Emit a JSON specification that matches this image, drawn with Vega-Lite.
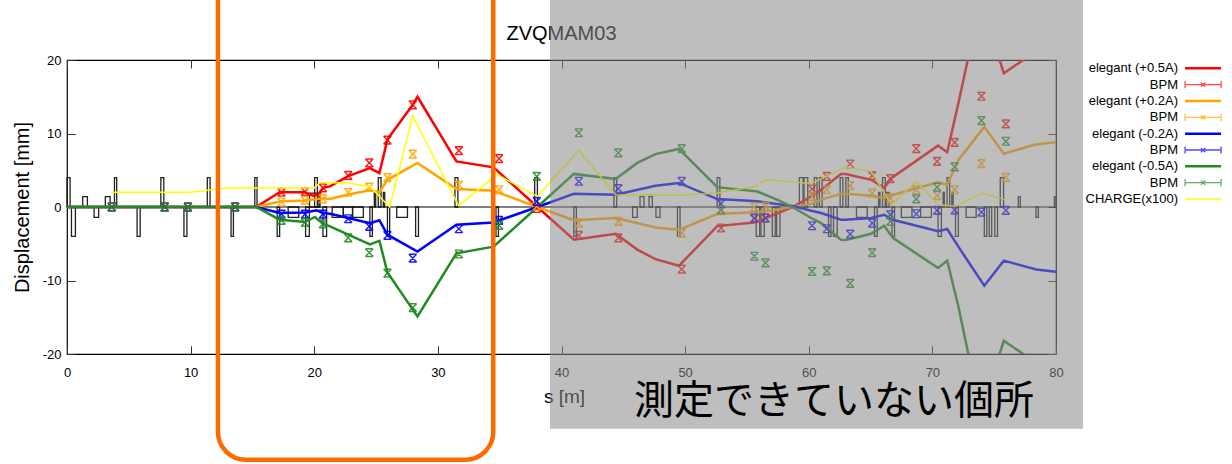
{
  "$schema": "https://vega.github.io/schema/vega-lite/v6.json",
  "autosize": "none",
  "width": 989,
  "height": 294,
  "padding": {"left": 67, "top": 60, "right": 176, "bottom": 110},
  "background": "white",
  "config": {
    "font": "Liberation Sans",
    "view": {"stroke": "black", "strokeWidth": 1.2},
    "axis": {"domain": false, "labelColor": "black", "tickColor": "#333", "labelFontSize": 13, "labelFlush": false, "labelOverlap": false, "titleFontWeight": "normal", "titleColor": "black", "gridColor": "#333", "gridWidth": 1, "gridOpacity": 1}
  },
  "datasets": {
    "elements": [
      {"s0": 0.0, "s1": 0.25, "h": 4}, {"s0": 0.36, "s1": 0.68, "h": -4}, {"s0": 1.27, "s1": 1.65, "h": 1.4}, {"s0": 2.19, "s1": 2.56, "h": -1.4},
      {"s0": 3.1, "s1": 3.49, "h": 1.4}, {"s0": 3.84, "s1": 4.02, "h": 4}, {"s0": 5.67, "s1": 5.92, "h": -4}, {"s0": 7.59, "s1": 7.83, "h": 4},
      {"s0": 9.46, "s1": 9.7, "h": -4}, {"s0": 11.35, "s1": 11.57, "h": 4}, {"s0": 13.27, "s1": 13.46, "h": -4}, {"s0": 15.19, "s1": 15.37, "h": 4},
      {"s0": 17.0, "s1": 17.2, "h": -4}, {"s0": 17.89, "s1": 18.75, "h": -1.4}, {"s0": 19.3, "s1": 19.6, "h": -4}, {"s0": 19.62, "s1": 20.45, "h": 1.9},
      {"s0": 20.38, "s1": 20.45, "h": 1.9}, {"s0": 20.03, "s1": 20.25, "h": 4}, {"s0": 20.7, "s1": 21.0, "h": -4}, {"s0": 21.45, "s1": 22.35, "h": -1.4},
      {"s0": 22.35, "s1": 23.1, "h": -1.4}, {"s0": 23.1, "s1": 23.97, "h": -1.4}, {"s0": 24.5, "s1": 24.7, "h": -4}, {"s0": 24.86, "s1": 24.97, "h": 2},
      {"s0": 25.18, "s1": 25.4, "h": 4}, {"s0": 25.59, "s1": 25.7, "h": 2}, {"s0": 25.92, "s1": 26.1, "h": -4}, {"s0": 26.67, "s1": 27.54, "h": -1.4},
      {"s0": 28.2, "s1": 28.43, "h": -4}, {"s0": 31.38, "s1": 31.62, "h": 4}, {"s0": 34.7, "s1": 34.9, "h": -4}, {"s0": 37.83, "s1": 38.05, "h": 4},
      {"s0": 41.0, "s1": 41.2, "h": -4}, {"s0": 44.24, "s1": 44.46, "h": 4}, {"s0": 45.75, "s1": 46.13, "h": -1.4}, {"s0": 46.35, "s1": 46.67, "h": 1.4},
      {"s0": 47.08, "s1": 47.35, "h": 1.4}, {"s0": 47.64, "s1": 47.97, "h": -1.4}, {"s0": 49.38, "s1": 49.59, "h": -4}, {"s0": 52.59, "s1": 52.81, "h": 4},
      {"s0": 55.75, "s1": 56.03, "h": -4}, {"s0": 56.13, "s1": 56.4, "h": -4}, {"s0": 57.05, "s1": 57.29, "h": -4}, {"s0": 57.4, "s1": 57.67, "h": -4},
      {"s0": 59.24, "s1": 59.54, "h": 4}, {"s0": 59.62, "s1": 59.92, "h": 4}, {"s0": 60.45, "s1": 60.67, "h": 4}, {"s0": 60.86, "s1": 61.08, "h": 4},
      {"s0": 61.6, "s1": 61.8, "h": -4}, {"s0": 62.0, "s1": 62.3, "h": -4}, {"s0": 62.54, "s1": 62.76, "h": 4}, {"s0": 63.0, "s1": 63.2, "h": 4},
      {"s0": 63.86, "s1": 64.73, "h": -1.4}, {"s0": 65.32, "s1": 65.54, "h": -4}, {"s0": 65.65, "s1": 65.76, "h": 2}, {"s0": 65.97, "s1": 66.19, "h": 4},
      {"s0": 66.3, "s1": 66.5, "h": 2}, {"s0": 66.73, "s1": 66.94, "h": -4}, {"s0": 67.49, "s1": 68.35, "h": -1.4}, {"s0": 69.05, "s1": 69.92, "h": -1.4},
      {"s0": 70.46, "s1": 70.73, "h": -4}, {"s0": 70.87, "s1": 70.97, "h": 2}, {"s0": 71.19, "s1": 71.4, "h": 4}, {"s0": 71.57, "s1": 71.68, "h": 2},
      {"s0": 71.87, "s1": 72.1, "h": -4}, {"s0": 72.73, "s1": 73.54, "h": -1.4}, {"s0": 74.2, "s1": 74.4, "h": -4}, {"s0": 74.6, "s1": 74.8, "h": -4},
      {"s0": 75.05, "s1": 75.27, "h": -4}, {"s0": 75.49, "s1": 75.76, "h": 4}, {"s0": 76.95, "s1": 77.11, "h": 1.4}, {"s0": 78.38, "s1": 78.57, "h": -1.4},
      {"s0": 79.87, "s1": 80.0, "h": 1.4}
    ],
    "lines": [
      {"cur": "+0.5A", "s": 0, "y": 0}, {"cur": "+0.5A", "s": 15.3, "y": 0}, {"cur": "+0.5A", "s": 17.2, "y": 2.0}, {"cur": "+0.5A", "s": 19.25, "y": 2.0},
      {"cur": "+0.5A", "s": 19.9, "y": 1.55}, {"cur": "+0.5A", "s": 20.4, "y": 1.7}, {"cur": "+0.5A", "s": 20.7, "y": 2.6}, {"cur": "+0.5A", "s": 21.27, "y": 2.8},
      {"cur": "+0.5A", "s": 22.75, "y": 4.2}, {"cur": "+0.5A", "s": 24.5, "y": 5.3}, {"cur": "+0.5A", "s": 25.27, "y": 4.6}, {"cur": "+0.5A", "s": 25.92, "y": 9.2},
      {"cur": "+0.5A", "s": 27.97, "y": 13.9}, {"cur": "+0.5A", "s": 28.35, "y": 15.0}, {"cur": "+0.5A", "s": 31.5, "y": 6.2}, {"cur": "+0.5A", "s": 34.5, "y": 5.4},
      {"cur": "+0.5A", "s": 38.05, "y": 0}, {"cur": "+0.5A", "s": 41.0, "y": -4.45}, {"cur": "+0.5A", "s": 44.38, "y": -3.64}, {"cur": "+0.5A", "s": 46.13, "y": -5.8},
      {"cur": "+0.5A", "s": 47.6, "y": -7.1}, {"cur": "+0.5A", "s": 49.5, "y": -8.0}, {"cur": "+0.5A", "s": 52.6, "y": -2.6}, {"cur": "+0.5A", "s": 55.6, "y": -2.1},
      {"cur": "+0.5A", "s": 57.2, "y": -1.05}, {"cur": "+0.5A", "s": 58.8, "y": 0.1}, {"cur": "+0.5A", "s": 60.2, "y": 1.45}, {"cur": "+0.5A", "s": 61.0, "y": 2.35},
      {"cur": "+0.5A", "s": 62.6, "y": 4.5}, {"cur": "+0.5A", "s": 63.0, "y": 4.5}, {"cur": "+0.5A", "s": 65.05, "y": 3.7}, {"cur": "+0.5A", "s": 66.1, "y": 2.6},
      {"cur": "+0.5A", "s": 66.7, "y": 3.95}, {"cur": "+0.5A", "s": 70.46, "y": 8.35}, {"cur": "+0.5A", "s": 71.2, "y": 7.45}, {"cur": "+0.5A", "s": 72.1, "y": 14.1},
      {"cur": "+0.5A", "s": 73.9, "y": 28}, {"cur": "+0.5A", "s": 75.78, "y": 18.2}, {"cur": "+0.5A", "s": 77.35, "y": 20}, {"cur": "+0.5A", "s": 80, "y": 23},

      {"cur": "+0.2A", "s": 0, "y": 0}, {"cur": "+0.2A", "s": 15.3, "y": 0}, {"cur": "+0.2A", "s": 17.2, "y": 0.76}, {"cur": "+0.2A", "s": 19.25, "y": 0.9},
      {"cur": "+0.2A", "s": 20.7, "y": 1.2}, {"cur": "+0.2A", "s": 21.27, "y": 1.1}, {"cur": "+0.2A", "s": 22.75, "y": 1.7}, {"cur": "+0.2A", "s": 24.5, "y": 2.26},
      {"cur": "+0.2A", "s": 25.27, "y": 2.0}, {"cur": "+0.2A", "s": 25.92, "y": 3.7}, {"cur": "+0.2A", "s": 28.35, "y": 6.0}, {"cur": "+0.2A", "s": 31.5, "y": 2.45},
      {"cur": "+0.2A", "s": 34.5, "y": 2.2}, {"cur": "+0.2A", "s": 38.05, "y": 0}, {"cur": "+0.2A", "s": 41.0, "y": -1.8}, {"cur": "+0.2A", "s": 44.38, "y": -1.5},
      {"cur": "+0.2A", "s": 47.6, "y": -2.8}, {"cur": "+0.2A", "s": 49.5, "y": -3.1}, {"cur": "+0.2A", "s": 52.6, "y": -0.96}, {"cur": "+0.2A", "s": 55.6, "y": -0.73},
      {"cur": "+0.2A", "s": 57.2, "y": -0.4}, {"cur": "+0.2A", "s": 58.8, "y": 0.06}, {"cur": "+0.2A", "s": 60.2, "y": 0.45}, {"cur": "+0.2A", "s": 61.0, "y": 1.0},
      {"cur": "+0.2A", "s": 62.6, "y": 1.8}, {"cur": "+0.2A", "s": 63.0, "y": 1.8}, {"cur": "+0.2A", "s": 65.05, "y": 1.54}, {"cur": "+0.2A", "s": 66.1, "y": 1.2},
      {"cur": "+0.2A", "s": 66.7, "y": 1.6}, {"cur": "+0.2A", "s": 70.46, "y": 3.35}, {"cur": "+0.2A", "s": 71.2, "y": 3.0}, {"cur": "+0.2A", "s": 72.1, "y": 6.4},
      {"cur": "+0.2A", "s": 74.2, "y": 10.9}, {"cur": "+0.2A", "s": 75.78, "y": 7.25}, {"cur": "+0.2A", "s": 78.3, "y": 8.5}, {"cur": "+0.2A", "s": 80, "y": 8.8},

      {"cur": "-0.2A", "s": 0, "y": 0}, {"cur": "-0.2A", "s": 15.3, "y": 0}, {"cur": "-0.2A", "s": 17.2, "y": -0.82}, {"cur": "-0.2A", "s": 19.25, "y": -0.76},
      {"cur": "-0.2A", "s": 20.2, "y": -0.46}, {"cur": "-0.2A", "s": 20.7, "y": -0.82}, {"cur": "-0.2A", "s": 21.27, "y": -0.92}, {"cur": "-0.2A", "s": 22.75, "y": -1.5},
      {"cur": "-0.2A", "s": 24.5, "y": -2.2}, {"cur": "-0.2A", "s": 25.27, "y": -1.8}, {"cur": "-0.2A", "s": 25.92, "y": -3.77}, {"cur": "-0.2A", "s": 28.35, "y": -6.05},
      {"cur": "-0.2A", "s": 31.5, "y": -2.4}, {"cur": "-0.2A", "s": 34.5, "y": -2.1}, {"cur": "-0.2A", "s": 38.05, "y": 0}, {"cur": "-0.2A", "s": 41.0, "y": 1.8},
      {"cur": "-0.2A", "s": 44.38, "y": 1.67}, {"cur": "-0.2A", "s": 47.6, "y": 2.9}, {"cur": "-0.2A", "s": 49.5, "y": 3.27}, {"cur": "-0.2A", "s": 52.6, "y": 1.08},
      {"cur": "-0.2A", "s": 55.85, "y": 0.77}, {"cur": "-0.2A", "s": 58.8, "y": 0.1}, {"cur": "-0.2A", "s": 60.2, "y": -0.5}, {"cur": "-0.2A", "s": 61.0, "y": -0.82},
      {"cur": "-0.2A", "s": 62.6, "y": -1.73}, {"cur": "-0.2A", "s": 63.0, "y": -1.73}, {"cur": "-0.2A", "s": 65.05, "y": -1.5}, {"cur": "-0.2A", "s": 66.1, "y": -1.05},
      {"cur": "-0.2A", "s": 66.8, "y": -1.73}, {"cur": "-0.2A", "s": 70.46, "y": -3.3}, {"cur": "-0.2A", "s": 71.2, "y": -3.0}, {"cur": "-0.2A", "s": 72.1, "y": -5.4},
      {"cur": "-0.2A", "s": 74.2, "y": -10.7}, {"cur": "-0.2A", "s": 75.78, "y": -7.3}, {"cur": "-0.2A", "s": 78.4, "y": -8.5}, {"cur": "-0.2A", "s": 80, "y": -8.8},

      {"cur": "-0.5A", "s": 0, "y": 0}, {"cur": "-0.5A", "s": 15.3, "y": 0}, {"cur": "-0.5A", "s": 17.2, "y": -1.73}, {"cur": "-0.5A", "s": 19.25, "y": -2.05},
      {"cur": "-0.5A", "s": 20.05, "y": -1.36}, {"cur": "-0.5A", "s": 20.7, "y": -2.27}, {"cur": "-0.5A", "s": 21.27, "y": -2.64}, {"cur": "-0.5A", "s": 22.75, "y": -3.77},
      {"cur": "-0.5A", "s": 24.5, "y": -5.1}, {"cur": "-0.5A", "s": 25.27, "y": -4.6}, {"cur": "-0.5A", "s": 25.92, "y": -8.9}, {"cur": "-0.5A", "s": 28.35, "y": -14.9},
      {"cur": "-0.5A", "s": 31.5, "y": -6.3}, {"cur": "-0.5A", "s": 34.5, "y": -5.4}, {"cur": "-0.5A", "s": 38.05, "y": 0}, {"cur": "-0.5A", "s": 41.0, "y": 4.5},
      {"cur": "-0.5A", "s": 44.38, "y": 3.8}, {"cur": "-0.5A", "s": 46.13, "y": 6.0}, {"cur": "-0.5A", "s": 47.6, "y": 7.2}, {"cur": "-0.5A", "s": 49.5, "y": 7.9},
      {"cur": "-0.5A", "s": 52.6, "y": 2.7}, {"cur": "-0.5A", "s": 55.85, "y": 2.1}, {"cur": "-0.5A", "s": 57.76, "y": 0.76}, {"cur": "-0.5A", "s": 58.8, "y": -0.14},
      {"cur": "-0.5A", "s": 60.2, "y": -1.5}, {"cur": "-0.5A", "s": 61.0, "y": -2.2}, {"cur": "-0.5A", "s": 62.6, "y": -4.45}, {"cur": "-0.5A", "s": 63.0, "y": -4.5},
      {"cur": "-0.5A", "s": 65.05, "y": -3.64}, {"cur": "-0.5A", "s": 66.1, "y": -2.55}, {"cur": "-0.5A", "s": 66.8, "y": -4.2}, {"cur": "-0.5A", "s": 70.46, "y": -8.3},
      {"cur": "-0.5A", "s": 71.2, "y": -7.3}, {"cur": "-0.5A", "s": 72.1, "y": -13.5}, {"cur": "-0.5A", "s": 73.9, "y": -28}, {"cur": "-0.5A", "s": 75.78, "y": -18.2},
      {"cur": "-0.5A", "s": 77.35, "y": -20}, {"cur": "-0.5A", "s": 80, "y": -23},

      {"cur": "CHARGE", "s": 3.6, "y": 2.0}, {"cur": "CHARGE", "s": 10.0, "y": 2.0}, {"cur": "CHARGE", "s": 12.9, "y": 2.6}, {"cur": "CHARGE", "s": 20.0, "y": 2.6},
      {"cur": "CHARGE", "s": 20.45, "y": 3.3}, {"cur": "CHARGE", "s": 21.5, "y": 3.35}, {"cur": "CHARGE", "s": 22.75, "y": 3.27}, {"cur": "CHARGE", "s": 24.5, "y": 2.8},
      {"cur": "CHARGE", "s": 26.1, "y": 0}, {"cur": "CHARGE", "s": 27.97, "y": 12.4}, {"cur": "CHARGE", "s": 31.67, "y": 0.2}, {"cur": "CHARGE", "s": 34.8, "y": 4.4},
      {"cur": "CHARGE", "s": 38.05, "y": 1.45}, {"cur": "CHARGE", "s": 41.4, "y": 7.7}, {"cur": "CHARGE", "s": 44.38, "y": 1.67}, {"cur": "CHARGE", "s": 49.5, "y": 1.6},
      {"cur": "CHARGE", "s": 52.6, "y": 1.9}, {"cur": "CHARGE", "s": 55.6, "y": 2.8}, {"cur": "CHARGE", "s": 56.55, "y": 3.7}, {"cur": "CHARGE", "s": 60.2, "y": 3.2},
      {"cur": "CHARGE", "s": 63.0, "y": 5.45}, {"cur": "CHARGE", "s": 65.05, "y": 4.85}, {"cur": "CHARGE", "s": 66.7, "y": 0.3}, {"cur": "CHARGE", "s": 68.7, "y": 3.5},
      {"cur": "CHARGE", "s": 70.46, "y": 0.3}, {"cur": "CHARGE", "s": 71.9, "y": 0.1}, {"cur": "CHARGE", "s": 74.0, "y": 1.9}, {"cur": "CHARGE", "s": 75.9, "y": 1.0}
    ],
    "bpm": [
      {"cur": "+0.5A", "s": 3.62, "y": 0}, {"cur": "+0.5A", "s": 7.9, "y": 0}, {"cur": "+0.5A", "s": 9.78, "y": 0}, {"cur": "+0.5A", "s": 13.6, "y": 0},
      {"cur": "+0.5A", "s": 17.35, "y": 2.0}, {"cur": "+0.5A", "s": 19.25, "y": 2.1}, {"cur": "+0.5A", "s": 20.7, "y": 2.6}, {"cur": "+0.5A", "s": 22.75, "y": 4.3},
      {"cur": "+0.5A", "s": 24.45, "y": 6.0}, {"cur": "+0.5A", "s": 25.92, "y": 9.1}, {"cur": "+0.5A", "s": 27.97, "y": 13.9}, {"cur": "+0.5A", "s": 31.7, "y": 7.67},
      {"cur": "+0.5A", "s": 34.95, "y": 6.58}, {"cur": "+0.5A", "s": 38.0, "y": -0.2}, {"cur": "+0.5A", "s": 41.4, "y": -3.86}, {"cur": "+0.5A", "s": 44.6, "y": -4.2},
      {"cur": "+0.5A", "s": 49.73, "y": -8.45}, {"cur": "+0.5A", "s": 52.9, "y": -2.86}, {"cur": "+0.5A", "s": 55.6, "y": -1.6}, {"cur": "+0.5A", "s": 56.5, "y": -1.5},
      {"cur": "+0.5A", "s": 60.27, "y": 2.45}, {"cur": "+0.5A", "s": 61.46, "y": 4.17}, {"cur": "+0.5A", "s": 63.35, "y": 5.85}, {"cur": "+0.5A", "s": 65.13, "y": 4.26},
      {"cur": "+0.5A", "s": 66.6, "y": 3.86}, {"cur": "+0.5A", "s": 68.7, "y": 7.94}, {"cur": "+0.5A", "s": 70.38, "y": 6.2}, {"cur": "+0.5A", "s": 71.8, "y": 8.8},
      {"cur": "+0.5A", "s": 73.97, "y": 15.07}, {"cur": "+0.5A", "s": 75.94, "y": 11.3},

      {"cur": "+0.2A", "s": 3.62, "y": 0}, {"cur": "+0.2A", "s": 7.9, "y": 0}, {"cur": "+0.2A", "s": 9.78, "y": 0}, {"cur": "+0.2A", "s": 13.6, "y": 0},
      {"cur": "+0.2A", "s": 17.35, "y": 0.68}, {"cur": "+0.2A", "s": 19.25, "y": 0.9}, {"cur": "+0.2A", "s": 20.7, "y": 1.1}, {"cur": "+0.2A", "s": 22.75, "y": 2.0},
      {"cur": "+0.2A", "s": 24.45, "y": 2.7}, {"cur": "+0.2A", "s": 25.92, "y": 4.0}, {"cur": "+0.2A", "s": 27.97, "y": 7.2}, {"cur": "+0.2A", "s": 31.7, "y": 3.0},
      {"cur": "+0.2A", "s": 34.95, "y": 2.35}, {"cur": "+0.2A", "s": 38.0, "y": 0.1}, {"cur": "+0.2A", "s": 41.4, "y": -2.2}, {"cur": "+0.2A", "s": 44.6, "y": -1.95},
      {"cur": "+0.2A", "s": 49.73, "y": -3.55}, {"cur": "+0.2A", "s": 52.9, "y": -0.5}, {"cur": "+0.2A", "s": 55.6, "y": 0}, {"cur": "+0.2A", "s": 56.5, "y": 0.1},
      {"cur": "+0.2A", "s": 60.27, "y": 1.45}, {"cur": "+0.2A", "s": 61.46, "y": 2.35}, {"cur": "+0.2A", "s": 63.35, "y": 2.9}, {"cur": "+0.2A", "s": 65.13, "y": 1.9},
      {"cur": "+0.2A", "s": 66.6, "y": 1.2}, {"cur": "+0.2A", "s": 68.7, "y": 2.35}, {"cur": "+0.2A", "s": 70.38, "y": 1.54}, {"cur": "+0.2A", "s": 71.8, "y": 2.35},
      {"cur": "+0.2A", "s": 73.97, "y": 5.9}, {"cur": "+0.2A", "s": 75.94, "y": 4.04},

      {"cur": "-0.2A", "s": 3.62, "y": 0}, {"cur": "-0.2A", "s": 7.9, "y": 0}, {"cur": "-0.2A", "s": 9.78, "y": 0}, {"cur": "-0.2A", "s": 13.6, "y": 0},
      {"cur": "-0.2A", "s": 17.35, "y": -0.96}, {"cur": "-0.2A", "s": 19.25, "y": -0.96}, {"cur": "-0.2A", "s": 20.7, "y": -0.96}, {"cur": "-0.2A", "s": 22.75, "y": -1.6},
      {"cur": "-0.2A", "s": 24.45, "y": -2.64}, {"cur": "-0.2A", "s": 25.92, "y": -3.86}, {"cur": "-0.2A", "s": 27.97, "y": -6.95}, {"cur": "-0.2A", "s": 31.7, "y": -2.96},
      {"cur": "-0.2A", "s": 34.95, "y": -1.82}, {"cur": "-0.2A", "s": 38.0, "y": 0.77}, {"cur": "-0.2A", "s": 41.4, "y": 3.5}, {"cur": "-0.2A", "s": 44.6, "y": 2.5},
      {"cur": "-0.2A", "s": 49.73, "y": 3.5}, {"cur": "-0.2A", "s": 52.9, "y": 0.45}, {"cur": "-0.2A", "s": 55.6, "y": -1.5}, {"cur": "-0.2A", "s": 56.5, "y": -1.5},
      {"cur": "-0.2A", "s": 60.27, "y": -2.55}, {"cur": "-0.2A", "s": 61.46, "y": -2.96}, {"cur": "-0.2A", "s": 63.35, "y": -3.68}, {"cur": "-0.2A", "s": 65.13, "y": -2.2},
      {"cur": "-0.2A", "s": 66.6, "y": -1.05}, {"cur": "-0.2A", "s": 68.7, "y": -0.92}, {"cur": "-0.2A", "s": 70.38, "y": -0.46}, {"cur": "-0.2A", "s": 71.8, "y": -0.4},
      {"cur": "-0.2A", "s": 73.97, "y": -0.7}, {"cur": "-0.2A", "s": 75.94, "y": -0.46},

      {"cur": "-0.5A", "s": 3.62, "y": 0}, {"cur": "-0.5A", "s": 7.9, "y": 0}, {"cur": "-0.5A", "s": 9.78, "y": 0}, {"cur": "-0.5A", "s": 13.6, "y": 0},
      {"cur": "-0.5A", "s": 17.35, "y": -1.82}, {"cur": "-0.5A", "s": 19.25, "y": -2.1}, {"cur": "-0.5A", "s": 20.7, "y": -2.3}, {"cur": "-0.5A", "s": 22.75, "y": -4.2},
      {"cur": "-0.5A", "s": 24.45, "y": -6.2}, {"cur": "-0.5A", "s": 25.92, "y": -9.0}, {"cur": "-0.5A", "s": 27.97, "y": -13.7}, {"cur": "-0.5A", "s": 31.7, "y": -6.4},
      {"cur": "-0.5A", "s": 34.95, "y": -2.5}, {"cur": "-0.5A", "s": 38.0, "y": 4.17}, {"cur": "-0.5A", "s": 41.4, "y": 10.1}, {"cur": "-0.5A", "s": 44.6, "y": 7.36},
      {"cur": "-0.5A", "s": 49.73, "y": 7.94}, {"cur": "-0.5A", "s": 52.9, "y": -0.37}, {"cur": "-0.5A", "s": 55.6, "y": -6.7}, {"cur": "-0.5A", "s": 56.5, "y": -7.6},
      {"cur": "-0.5A", "s": 60.27, "y": -8.77}, {"cur": "-0.5A", "s": 61.46, "y": -8.7}, {"cur": "-0.5A", "s": 63.35, "y": -10.4}, {"cur": "-0.5A", "s": 65.13, "y": -6.2},
      {"cur": "-0.5A", "s": 66.6, "y": -1.96}, {"cur": "-0.5A", "s": 68.7, "y": 1.1}, {"cur": "-0.5A", "s": 70.38, "y": 2.7}, {"cur": "-0.5A", "s": 71.8, "y": 5.45},
      {"cur": "-0.5A", "s": 73.97, "y": 11.76}, {"cur": "-0.5A", "s": 75.94, "y": 8.94}
    ],
    "legend": [
      {"rank": 1, "label": "elegant (+0.5A)", "cur": "+0.5A", "kind": "line"},
      {"rank": 2, "label": "BPM", "cur": "+0.5A", "kind": "bpm"},
      {"rank": 3, "label": "elegant (+0.2A)", "cur": "+0.2A", "kind": "line"},
      {"rank": 4, "label": "BPM", "cur": "+0.2A", "kind": "bpm"},
      {"rank": 5, "label": "elegant (-0.2A)", "cur": "-0.2A", "kind": "line"},
      {"rank": 6, "label": "BPM", "cur": "-0.2A", "kind": "bpm"},
      {"rank": 7, "label": "elegant (-0.5A)", "cur": "-0.5A", "kind": "line"},
      {"rank": 8, "label": "BPM", "cur": "-0.5A", "kind": "bpm"},
      {"rank": 9, "label": "CHARGE(x100)", "cur": "CHARGE", "kind": "charge"}
    ]
  },
  "resolve": {"scale": {"y": "independent"}},
  "layer": [
    {
      "layer": [
        {
          "data": {"name": "elements"},
          "mark": {"type": "rect", "filled": false, "stroke": "#222", "strokeWidth": 1.3},
          "encoding": {
            "x": {"field": "s0", "type": "quantitative", "scale": {"domain": [0, 80], "nice": false, "zero": false},
              "axis": {"orient": "bottom", "values": [0, 10, 20, 30, 40, 50, 60, 70, 80], "tickSize": -8, "labelPadding": 20, "grid": true, "gridDash": [8, 278], "title": "s [m]", "titleFontSize": 19, "titleX": 497, "titleY": 42, "titleBaseline": "middle"}},
            "x2": {"field": "s1"},
            "y": {"field": "h", "type": "quantitative", "scale": {"domain": [-20, 20], "nice": false, "zero": false},
              "axis": {"orient": "left", "values": [-20, -15, -10, -5, 0, 5, 10, 15, 20], "tickSize": -8, "labelPadding": 14, "grid": true, "gridDash": [8, 973], "labelExpr": "replace(datum.label, '\u2212', '-')", "title": "Displacement [mm]", "titleFontSize": 20, "titleX": -45, "titleY": 147, "titleBaseline": "middle", "titleAlign": "center", "titleAngle": -90}},
            "y2": {"datum": 0}
          }
        },
        {
          "data": {"values": [{"ref": 0}]},
          "mark": {"type": "rule", "color": "black", "strokeWidth": 1.2},
          "encoding": {"y": {"field": "ref", "type": "quantitative"}}
        },
        {
          "data": {"name": "lines"},
          "transform": [{"filter": "datum.cur !== 'CHARGE'"}],
          "mark": {"type": "line", "strokeWidth": 2.5, "clip": true},
          "encoding": {
            "x": {"field": "s", "type": "quantitative"},
            "y": {"field": "y", "type": "quantitative"},
            "color": {"field": "cur", "type": "nominal", "scale": {"domain": ["+0.5A", "+0.2A", "-0.2A", "-0.5A", "CHARGE"], "range": ["#ff0000", "#ffa500", "#0000ff", "#228b22", "#ffff00"]}, "legend": null}
          }
        },
        {
          "data": {"name": "bpm"},
          "mark": {"type": "point", "shape": "M-1,-1L1,1M1,-1L-1,1M-1,-1H1M-1,1H1", "size": 60, "strokeWidth": 1.4, "filled": false, "opacity": 0.9, "clip": true},
          "encoding": {
            "x": {"field": "s", "type": "quantitative"},
            "y": {"field": "y", "type": "quantitative"},
            "color": {"field": "cur", "type": "nominal", "legend": null}
          }
        },
        {
          "data": {"name": "lines"},
          "transform": [{"filter": "datum.cur === 'CHARGE'"}],
          "mark": {"type": "line", "strokeWidth": 1.5, "clip": true},
          "encoding": {
            "x": {"field": "s", "type": "quantitative"},
            "y": {"field": "y", "type": "quantitative"},
            "color": {"field": "cur", "type": "nominal", "legend": null}
          }
        },
        {
          "data": {"values": [{"label": "ZVQMAM03"}]},
          "mark": {"type": "text", "fontSize": 20, "color": "black", "align": "center", "baseline": "middle"},
          "encoding": {
            "text": {"field": "label"},
            "x": {"datum": 40, "type": "quantitative"},
            "y": {"datum": 23.56, "type": "quantitative"}
          }
        },
        {
          "data": {"values": [{"region": "測定できていない個所"}]},
          "layer": [
            {
              "mark": {"type": "rect", "color": "#888888", "opacity": 0.55},
              "encoding": {
                "x": {"datum": 39.07, "type": "quantitative"},
                "x2": {"datum": 82.18},
                "y": {"datum": 28.3, "type": "quantitative"},
                "y2": {"datum": -30.18}
              }
            },
            {
              "mark": {"type": "text", "font": "Noto Sans CJK JP", "fontSize": 40, "color": "black", "align": "center", "baseline": "middle"},
              "encoding": {
                "text": {"field": "region"},
                "x": {"datum": 62.05, "type": "quantitative"},
                "y": {"datum": -26.5, "type": "quantitative"}
              }
            }
          ]
        },
        {
          "data": {"values": [{"frame": "highlight"}]},
          "mark": {"type": "rect", "filled": false, "color": "#ff6a00", "strokeWidth": 4.5, "cornerRadius": 28},
          "encoding": {
            "x": {"datum": 12.21, "type": "quantitative"},
            "x2": {"datum": 34.48},
            "y": {"datum": 32, "type": "quantitative"},
            "y2": {"datum": -34.4}
          }
        }
      ]
    },
    {
      "data": {"name": "legend"},
      "encoding": {
        "y": {"field": "rank", "type": "quantitative", "scale": {"domain": [0.492, 18.48], "reverse": true, "nice": false, "zero": false}, "axis": null}
      },
      "layer": [
        {
          "mark": {"type": "text", "align": "right", "baseline": "middle", "fontSize": 13, "color": "black"},
          "encoding": {"x": {"datum": 89.87, "type": "quantitative"}, "text": {"field": "label"}}
        },
        {
          "transform": [{"filter": "datum.kind === 'line'"}],
          "mark": {"type": "rule", "strokeWidth": 2.5},
          "encoding": {"x": {"datum": 90.44, "type": "quantitative"}, "x2": {"datum": 93.35}, "color": {"field": "cur", "type": "nominal", "legend": null}}
        },
        {
          "transform": [{"filter": "datum.kind === 'charge'"}],
          "mark": {"type": "rule", "strokeWidth": 1.5},
          "encoding": {"x": {"datum": 90.44, "type": "quantitative"}, "x2": {"datum": 93.35}, "color": {"field": "cur", "type": "nominal", "legend": null}}
        },
        {
          "transform": [{"filter": "datum.kind === 'bpm'"}],
          "mark": {"type": "point", "shape": "M-1,0H1M-1,-0.2V0.2M1,-0.2V0.2M-0.12,-0.12L0.12,0.12M0.12,-0.12L-0.12,0.12", "size": 1296, "strokeWidth": 1.3, "filled": false, "opacity": 0.7},
          "encoding": {"x": {"datum": 91.9, "type": "quantitative"}, "color": {"field": "cur", "type": "nominal", "legend": null}}
        }
      ]
    }
  ]
}
